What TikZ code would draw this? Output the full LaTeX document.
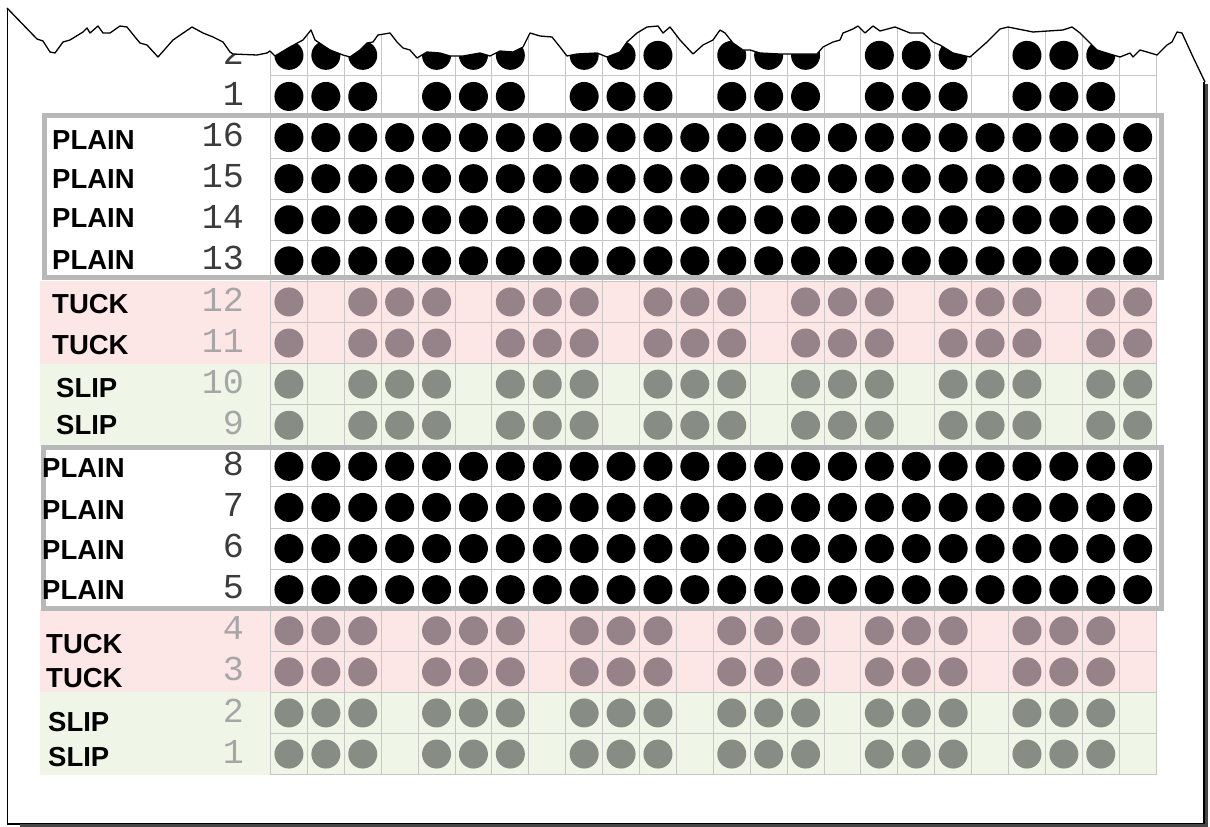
\documentclass[tikz,border=0pt]{standalone}
\usepackage{fontspec}
\setmainfont{Liberation Sans}
\newfontfamily\numfont{Liberation Mono}

\definecolor{tuckbg}{HTML}{FDE6E6}
\definecolor{slipbg}{HTML}{EFF6E7}
\definecolor{tuckdot}{HTML}{958389}
\definecolor{slipdot}{HTML}{878D85}
\definecolor{gridgray}{HTML}{C6C6C6}
\definecolor{framegray}{HTML}{B8B8B8}
\definecolor{numdark}{HTML}{3C3C3C}
\definecolor{numlight}{HTML}{A6A6A6}

\def\colsA{1,2,3,5,6,7,9,10,11,13,14,15,17,18,19,21,22,23}
\def\colsB{1,3,4,5,7,8,9,11,12,13,15,16,17,19,20,21,23,24}
\def\tornedge{(7,8) -- (37,39) -- (43,41) -- (50,52) -- (55,53) -- (63,42) -- (70,40) -- (83,32) -- (87,28) -- (90,33) -- (98,26) -- (103,33) -- (110,33) -- (120,26) -- (127,27) -- (135,37) -- (140,43) -- (147,45) -- (158,57) -- (173,40) -- (192,27) -- (203,33) -- (213,37) -- (223,42) -- (230,52) -- (233,54) -- (257,55) -- (267,53) -- (270,51) -- (275,56) -- (290,47) -- (303,40) -- (311,30) -- (315,40) -- (330,50) -- (343,55) -- (350,57) -- (360,50) -- (367,43) -- (373,42) -- (378,35) -- (390,33) -- (397,42) -- (403,48) -- (410,50) -- (417,58) -- (427,52) -- (440,53) -- (450,56) -- (463,56) -- (480,53) -- (490,56) -- (500,51) -- (513,52) -- (523,47) -- (530,33) -- (540,36) -- (552,37) -- (560,47) -- (567,56) -- (577,54) -- (597,53) -- (607,57) -- (620,52) -- (627,42) -- (637,33) -- (647,27) -- (658,26) -- (663,33) -- (670,27) -- (680,40) -- (693,54) -- (703,45) -- (713,40) -- (720,30) -- (725,33) -- (733,43) -- (743,50) -- (750,50) -- (760,53) -- (780,54) -- (800,54) -- (817,54) -- (823,47) -- (833,42) -- (840,40) -- (843,33) -- (853,29) -- (858,26) -- (865,33) -- (873,26) -- (880,31) -- (895,27) -- (910,33) -- (923,33) -- (933,42) -- (940,45) -- (953,53) -- (970,57) -- (987,42) -- (1000,29) -- (1008,27) -- (1033,32) -- (1063,30) -- (1072,27) -- (1080,33) -- (1087,40) -- (1097,50) -- (1113,55) -- (1120,57) -- (1130,53) -- (1133,57) -- (1140,50) -- (1147,52) -- (1157,55) -- (1167,45) -- (1172,42) -- (1177,32) -- (1182,33) -- (1193,57) -- (1205,82)}

\begin{document}
\begin{tikzpicture}[
  x=1pt, y=-1pt,
  stitchlbl/.style={anchor=west, inner sep=0pt, font=\fontsize{27.5}{27.5}\selectfont\bfseries},
  rownum/.style   ={anchor=east, inner sep=0pt, font=\numfont\fontsize{35}{35}\selectfont, text=numdark},
  fadenum/.style  ={rownum, text=numlight},
  gridline/.style ={draw=gridgray, line width=0.9pt},
  rowframe/.style ={draw=framegray, line width=5pt},
  torn/.style     ={draw=black, line width=1.3pt, line join=round},
]
\useasboundingbox (0,0) rectangle (1210,827);

% ---- coloured bands (tuck / slip) ----
\fill[tuckbg] (40,281.4) rectangle (1156.1,363.6);
\fill[slipbg] (40,363.6) rectangle (1156.1,445.8);
\fill[tuckbg] (40,610.2) rectangle (1156.1,692.4);
\fill[slipbg] (40,692.4) rectangle (1156.1,774.6);

% ---- grid (24 needles x 18 rows) ----
\foreach \k in {1,...,18}
  \draw[gridline] (270.5,{34.8+\k*41.1}) -- (1156.1,{34.8+\k*41.1});
\foreach \k in {0,...,24}
  \draw[gridline] ({270.5+\k*36.9},20) -- ({270.5+\k*36.9},774.6);

% ---- stitches ----
\foreach \r in {0,1}
  \foreach \c in \colsA
    \fill[black] ({270.5+(\c-0.5)*36.9},{34.8+(\r+0.5)*41.1}) circle[radius=14.5pt];
\foreach \r in {2,3,4,5,10,11,12,13}
  \foreach \c in {1,...,24}
    \fill[black] ({270.5+(\c-0.5)*36.9},{34.8+(\r+0.5)*41.1}) circle[radius=14.5pt];
\foreach \r in {6,7}
  \foreach \c in \colsB
    \fill[tuckdot] ({270.5+(\c-0.5)*36.9},{34.8+(\r+0.5)*41.1}) circle[radius=14.5pt];
\foreach \r in {8,9}
  \foreach \c in \colsB
    \fill[slipdot] ({270.5+(\c-0.5)*36.9},{34.8+(\r+0.5)*41.1}) circle[radius=14.5pt];
\foreach \r in {14,15}
  \foreach \c in \colsA
    \fill[tuckdot] ({270.5+(\c-0.5)*36.9},{34.8+(\r+0.5)*41.1}) circle[radius=14.5pt];
\foreach \r in {16,17}
  \foreach \c in \colsA
    \fill[slipdot] ({270.5+(\c-0.5)*36.9},{34.8+(\r+0.5)*41.1}) circle[radius=14.5pt];

% ---- plain frames ----
\draw[rowframe] (44.5,115.5) rectangle (1161.5,277.5);
\draw[rowframe] (43.5,447.5) rectangle (1161.5,608.5);

% ---- row numbers ----
\node[rownum] (numtop2) at (244,{32.3+0.5*41.1}) {2};
\node[rownum] (numtop1) at (244,{32.3+1.5*41.1}) {1};
\foreach \n [count=\i from 2] in {16,15,14,13}
  \node[rownum] (num\n) at (244,{32.3+(\i+0.5)*41.1}) {\n};
\foreach \n [count=\i from 6] in {12,11,10,9}
  \node[fadenum] (num\n) at (244,{32.3+(\i+0.5)*41.1}) {\n};
\foreach \n [count=\i from 10] in {8,7,6,5}
  \node[rownum] (num\n) at (244,{32.3+(\i+0.5)*41.1}) {\n};
\foreach \n [count=\i from 14] in {4,3,2,1}
  \node[fadenum] (num\n) at (244,{32.3+(\i+0.5)*41.1}) {\n};

% ---- stitch labels ----
\foreach \n/\y in {16/140,15/179,14/218,13/260}
  \node[stitchlbl] (lbl\n) at (52,\y) {PLAIN};
\node[stitchlbl] (lbl12) at (52,304) {TUCK};
\node[stitchlbl] (lbl11) at (52,345) {TUCK};
\node[stitchlbl] (lbl10) at (56,388) {SLIP};
\node[stitchlbl] (lbl9)  at (56,425) {SLIP};
\foreach \n/\y in {8/468,7/510,6/550,5/590}
  \node[stitchlbl] (lbl\n) at (42,\y) {PLAIN};
\node[stitchlbl] (lbl4) at (46,644) {TUCK};
\node[stitchlbl] (lbl3) at (46,678) {TUCK};
\node[stitchlbl] (lbl2) at (48,722) {SLIP};
\node[stitchlbl] (lbl1) at (48,757) {SLIP};

% ---- torn paper edge ----
\fill[white] (0,0) -- \tornedge -- (1210,82) -- (1210,0) -- cycle;
\draw[torn] \tornedge;
\draw[black, line width=1.2pt] (7.5,8) -- (7.5,824) -- (1204,824) -- (1204,82);
\draw[black!72, line width=3pt] (20,825.5) -- (1206.5,825.5) -- (1206.5,84);

\end{tikzpicture}
\end{document}
